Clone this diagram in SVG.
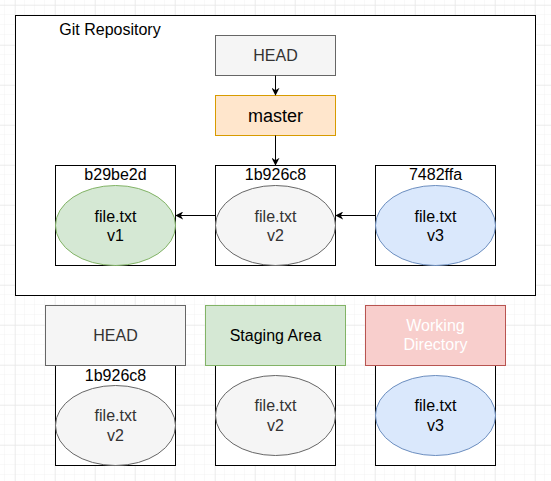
<svg xmlns="http://www.w3.org/2000/svg" width="551" height="481" viewBox="0 0 551 481">
<defs>
<pattern id="minor" x="5" y="5" width="10" height="10" patternUnits="userSpaceOnUse">
<path d="M10 0V10M0 10H10" fill="none" stroke="#f2f2f2" stroke-width="1"/>
</pattern>
<pattern id="major" x="15" y="5" width="40" height="40" patternUnits="userSpaceOnUse">
<path d="M0 0V40M0 0H40" fill="none" stroke="#e3e3e3" stroke-width="1"/>
</pattern>
<marker id="arr" viewBox="0 0 10 10" refX="9" refY="5" markerWidth="8" markerHeight="8" markerUnits="userSpaceOnUse" orient="auto">
<path d="M0 0L10 5L0 10L3 5Z" fill="#000"/>
</marker>
<style>
text{font-family:"Liberation Sans",Arial,sans-serif;font-size:16px;text-anchor:middle;dominant-baseline:central;fill:#000}
.box{fill:#fff;stroke:#000;stroke-width:1}
.grey{fill:#f5f5f5;stroke:#666}
.green{fill:#d5e8d4;stroke:#82b366}
.blue{fill:#dae8fc;stroke:#6c8ebf}
.red{fill:#f8cecc;stroke:#b85450}
.orange{fill:#ffe6cc;stroke:#d79b00}
.t333{fill:#333}
.edge{stroke:#000;stroke-width:1;fill:none;marker-end:url(#arr)}
</style>
</defs>
<rect width="551" height="481" fill="#fff"/>
<rect width="551" height="481" fill="url(#minor)"/>
<rect width="551" height="481" fill="url(#major)"/>

<g id="repo">
<rect x="15.5" y="15.5" width="520" height="280" fill="#fff" stroke="#000"/>
<text x="110" y="29">Git Repository</text>
</g>

<g id="head-top">
<rect class="grey" x="215.5" y="35.5" width="120" height="40"/>
<text class="t333" x="275.5" y="55.5">HEAD</text>
</g>
<g id="master">
<rect class="orange" x="215.5" y="95.5" width="120" height="40"/>
<text x="275.5" y="115.5" style="font-size:18px">master</text>
</g>

<g id="commit-b29be2d">
<rect class="box" x="55.5" y="165.5" width="120" height="100"/>
<text x="115.5" y="174">b29be2d</text>
<ellipse class="green" cx="115.5" cy="225.5" rx="60" ry="40"/>
<text x="115.5" y="216">file.txt</text>
<text x="115.5" y="235">v1</text>
</g>
<g id="commit-1b926c8">
<rect class="box" x="215.5" y="165.5" width="120" height="100"/>
<text x="275.5" y="174">1b926c8</text>
<ellipse class="grey" cx="275.5" cy="225.5" rx="60" ry="40"/>
<text class="t333" x="275.5" y="216">file.txt</text>
<text class="t333" x="275.5" y="235">v2</text>
</g>
<g id="commit-7482ffa">
<rect class="box" x="375.5" y="165.5" width="120" height="100"/>
<text x="435.5" y="174">7482ffa</text>
<ellipse class="blue" cx="435.5" cy="225.5" rx="60" ry="40"/>
<text x="435.5" y="216">file.txt</text>
<text x="435.5" y="235">v3</text>
</g>

<g id="head-bottom">
<rect class="box" x="55.5" y="365.5" width="120" height="100"/>
<rect class="grey" x="45.5" y="305.5" width="140" height="60"/>
<text class="t333" x="115.5" y="335.5">HEAD</text>
<text x="115.5" y="375">1b926c8</text>
<ellipse class="grey" cx="115.5" cy="425.5" rx="60" ry="40"/>
<text class="t333" x="115.5" y="415">file.txt</text>
<text class="t333" x="115.5" y="435">v2</text>
</g>
<g id="staging">
<rect class="box" x="215.5" y="365.5" width="120" height="100"/>
<rect class="green" x="205.5" y="305.5" width="140" height="60"/>
<text x="275.5" y="335.5">Staging Area</text>
<ellipse class="grey" cx="275.5" cy="415.5" rx="60" ry="40"/>
<text class="t333" x="275.5" y="405">file.txt</text>
<text class="t333" x="275.5" y="425">v2</text>
</g>
<g id="working">
<rect class="box" x="375.5" y="365.5" width="120" height="100"/>
<rect class="red" x="365.5" y="305.5" width="140" height="60"/>
<text x="435.5" y="325.5" style="fill:#fff">Working</text>
<text x="435.5" y="344.5" style="fill:#fff">Directory</text>
<ellipse class="blue" cx="435.5" cy="415.5" rx="60" ry="40"/>
<text x="435.5" y="405">file.txt</text>
<text x="435.5" y="425">v3</text>
</g>

<g id="connectors">
<path class="edge" d="M275.5 75.5V95"/>
<path class="edge" d="M275.5 135.5V165"/>
<path class="edge" d="M215.5 215.5H176"/>
<path class="edge" d="M375.5 215.5H336"/>
</g>
</svg>
